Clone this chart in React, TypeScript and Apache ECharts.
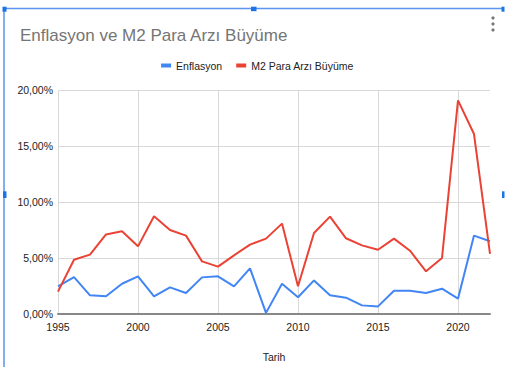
import React, { useEffect, useRef } from "react";
import * as echarts from "echarts";

const years = [1995, 1996, 1997, 1998, 1999, 2000, 2001, 2002, 2003, 2004, 2005, 2006, 2007, 2008, 2009, 2010, 2011, 2012, 2013, 2014, 2015, 2016, 2017, 2018, 2019, 2020, 2021, 2022];
const enflasyon = [2.47, 3.3, 1.67, 1.58, 2.7, 3.36, 1.58, 2.38, 1.88, 3.27, 3.36, 2.47, 4.08, 0.1, 2.7, 1.49, 3.0, 1.67, 1.46, 0.77, 0.68, 2.08, 2.08, 1.88, 2.26, 1.37, 7.0, 6.5];
const m2 = [2.0, 4.85, 5.3, 7.1, 7.38, 6.04, 8.72, 7.5, 7.0, 4.7, 4.23, 5.24, 6.19, 6.73, 8.07, 2.47, 7.23, 8.69, 6.76, 6.13, 5.74, 6.73, 5.65, 3.81, 5.0, 19.08, 16.07, 5.36];
const seriesNames = ["Enflasyon", "M2 Para Arzı Büyüme"];
const titleText = "Enflasyon ve M2 Para Arzı Büyüme";
const xAxisName = "Tarih";

const FONT = "Arial, 'Liberation Sans', sans-serif";
const BLUE = "#4285f4";
const RED = "#ea4335";
const SEL = "#1a73e8";

export default function App() {
  const ref = useRef<HTMLDivElement>(null);
  useEffect(() => {
    document.body.style.margin = "0";
    const chart = echarts.init(ref.current!, null, { renderer: "svg" });
    const grid = "#d9d9d9";
    chart.setOption({
      animation: false,
      backgroundColor: "#ffffff",
      title: {
        text: titleText,
        left: 15,
        top: 22,
        textStyle: { fontFamily: FONT, fontSize: 17, fontWeight: "normal", color: "#757575" },
      },
      legend: {
        top: 55,
        left: "center",
        itemWidth: 10,
        itemHeight: 4,
        itemGap: 14,
        icon: "rect",
        textStyle: { fontFamily: FONT, fontSize: 10.5, color: "#222" },
        data: seriesNames,
      },
      grid: { left: 58, right: 25, top: 90, bottom: 52.7, containLabel: false },
      xAxis: {
        type: "value",
        min: 1995,
        max: 2022,
        interval: 5,
        name: xAxisName,
        nameLocation: "middle",
        nameGap: 37,
        nameTextStyle: { fontFamily: FONT, fontSize: 10.5, color: "#222" },
        axisLine: { show: true, onZero: false, lineStyle: { color: "#888", width: 2 } },
        axisTick: { show: false },
        axisLabel: {
          fontFamily: FONT,
          fontSize: 10.5,
          color: "#222",
          margin: 7,
          showMaxLabel: false,
          formatter: (v: number) => String(v),
        },
        splitLine: {
          show: true,
          lineStyle: { color: [grid, grid, grid, grid, grid, grid, "rgba(0,0,0,0)"], width: 1 },
        },
      },
      yAxis: {
        type: "value",
        min: 0,
        max: 20,
        interval: 5,
        axisLine: { show: false },
        axisTick: { show: false },
        axisLabel: {
          fontFamily: FONT,
          fontSize: 10.5,
          color: "#222",
          margin: 5,
          formatter: (v: number) => v.toFixed(2).replace(".", ",") + "%",
        },
        splitLine: { show: true, lineStyle: { color: grid, width: 1 } },
      },
      series: [
        {
          name: seriesNames[0],
          type: "line",
          data: years.map((y, i) => [y, enflasyon[i]]),
          showSymbol: false,
          symbol: "none",
          lineStyle: { color: BLUE, width: 2 },
          itemStyle: { color: BLUE },
        },
        {
          name: seriesNames[1],
          type: "line",
          data: years.map((y, i) => [y, m2[i]]),
          showSymbol: false,
          symbol: "none",
          lineStyle: { color: RED, width: 2 },
          itemStyle: { color: RED },
        },
      ],
      graphic: [
        { type: "line", shape: { x1: 4, y1: 8, x2: 4, y2: 367 }, style: { stroke: "#5b93ee", lineWidth: 1.5 } },
        { type: "line", shape: { x1: 4, y1: 8.5, x2: 503, y2: 8.5 }, style: { stroke: "#5b93ee", lineWidth: 1.5 } },
        { type: "rect", shape: { x: 2.5, y: 6.7, width: 4, height: 5 }, style: { fill: SEL } },
        { type: "rect", shape: { x: 251, y: 6.7, width: 5.5, height: 4.5 }, style: { fill: SEL } },
        { type: "rect", shape: { x: 501.5, y: 6.7, width: 3, height: 5 }, style: { fill: SEL } },
        { type: "rect", shape: { x: 3, y: 191.3, width: 3.5, height: 6.7 }, style: { fill: SEL } },
        { type: "rect", shape: { x: 502, y: 191.3, width: 2.5, height: 6.7 }, style: { fill: SEL } },
        { type: "circle", shape: { cx: 493, cy: 18, r: 1.6 }, style: { fill: "#777" } },
        { type: "circle", shape: { cx: 493, cy: 24, r: 1.6 }, style: { fill: "#777" } },
        { type: "circle", shape: { cx: 493, cy: 30, r: 1.6 }, style: { fill: "#777" } },
      ],
    });
    return () => chart.dispose();
  }, []);
  return <div ref={ref} style={{ width: 515, height: 367 }} />;
}
